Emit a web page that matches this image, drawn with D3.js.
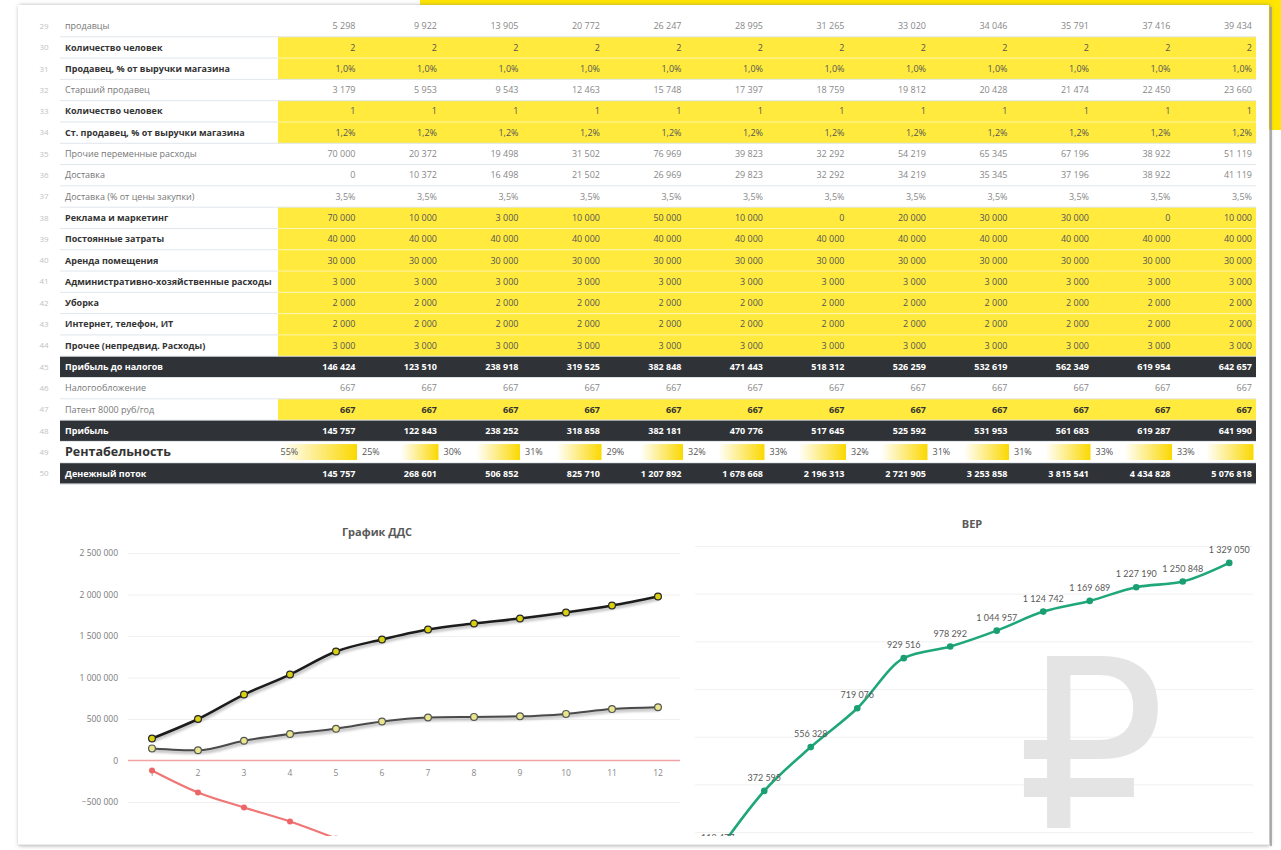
<!DOCTYPE html>
<html><head><meta charset="utf-8">
<script src="https://cdn.jsdelivr.net/npm/d3@7"></script>
<style>body{margin:0;background:#fff;} svg{display:block;}</style>
</head><body>
<svg id="c" width="1281" height="850"></svg>
<script>
// ---------- DATA ----------
const months = [1,2,3,4,5,6,7,8,9,10,11,12];
const rowNumbers = [29,30,31,32,33,34,35,36,37,38,39,40,41,42,43,44,45,46,47,48,49,50];

const sellers        = [5298, 9922, 13905, 20772, 26247, 28995, 31265, 33020, 34046, 35791, 37416, 39434];
const sellerCount    = [2,2,2,2,2,2,2,2,2,2,2,2];
const sellerPct      = [0.01,0.01,0.01,0.01,0.01,0.01,0.01,0.01,0.01,0.01,0.01,0.01];
const seniorSeller   = [3179, 5953, 9543, 12463, 15748, 17397, 18759, 19812, 20428, 21474, 22450, 23660];
const seniorCount    = [1,1,1,1,1,1,1,1,1,1,1,1];
const seniorPct      = [0.012,0.012,0.012,0.012,0.012,0.012,0.012,0.012,0.012,0.012,0.012,0.012];
const otherVariable  = [70000, 20372, 19498, 31502, 76969, 39823, 32292, 54219, 65345, 67196, 38922, 51119];
const delivery       = [0, 10372, 16498, 21502, 26969, 29823, 32292, 34219, 35345, 37196, 38922, 41119];
const deliveryPct    = [0.035,0.035,0.035,0.035,0.035,0.035,0.035,0.035,0.035,0.035,0.035,0.035];
const marketing      = [70000, 10000, 3000, 10000, 50000, 10000, 0, 20000, 30000, 30000, 0, 10000];
const fixedCosts     = [40000,40000,40000,40000,40000,40000,40000,40000,40000,40000,40000,40000];
const rentCosts      = [30000,30000,30000,30000,30000,30000,30000,30000,30000,30000,30000,30000];
const adminCosts     = [3000,3000,3000,3000,3000,3000,3000,3000,3000,3000,3000,3000];
const cleaning       = [2000,2000,2000,2000,2000,2000,2000,2000,2000,2000,2000,2000];
const internetIT     = [2000,2000,2000,2000,2000,2000,2000,2000,2000,2000,2000,2000];
const otherFixed     = [3000,3000,3000,3000,3000,3000,3000,3000,3000,3000,3000,3000];
const profitBeforeTax= [146424, 123510, 238918, 319525, 382848, 471443, 518312, 526259, 532619, 562349, 619954, 642657];
const taxation       = [667,667,667,667,667,667,667,667,667,667,667,667];
const patent         = [667,667,667,667,667,667,667,667,667,667,667,667];
const profit         = [145757, 122843, 238252, 318858, 382181, 470776, 517645, 525592, 531953, 561683, 619287, 641990];
const profitability  = [0.55, 0.25, 0.30, 0.31, 0.29, 0.32, 0.33, 0.32, 0.31, 0.31, 0.33, 0.33];
const cashFlow       = [145757, 268601, 506852, 825710, 1207892, 1678668, 2196313, 2721905, 3253858, 3815541, 4434828, 5076818];

// chart «График ДДС»
const ddsTicks    = [-500000, 0, 500000, 1000000, 1500000, 2000000, 2500000];
const ddsUpper    = [265000, 500000, 795000, 1036000, 1313000, 1458000, 1578000, 1650000, 1711000, 1783000, 1867000, 1976000];
const ddsProfit   = profit;
const ddsNegative = [-120000, -385000, -566000, -735000, -940000];

// chart «BEP»
const bepGrid   = [200000, 400000, 600000, 800000, 1000000, 1200000, 1400000];
const bepValues = [118477, 372595, 556328, 719076, 929516, 978292, 1044957, 1124742, 1169689, 1227190, 1250848, 1329050];

// ---------- FORMATS ----------
const fmtInt = v => d3.format(",")(v).replace(/,/g, " ");
const fmtP1  = v => d3.format(".1f")(v*100).replace(".", ",") + "%";
const fmtP0  = v => d3.format(".0f")(v*100) + "%";

const rows = [
  {n:29, label:"продавцы", vals:sellers, f:fmtInt, s:"plain"},
  {n:30, label:"Количество человек", vals:sellerCount, f:fmtInt, s:"input"},
  {n:31, label:"Продавец, % от выручки магазина", vals:sellerPct, f:fmtP1, s:"input"},
  {n:32, label:"Старший продавец", vals:seniorSeller, f:fmtInt, s:"plain"},
  {n:33, label:"Количество человек", vals:seniorCount, f:fmtInt, s:"input"},
  {n:34, label:"Ст. продавец, % от выручки магазина", vals:seniorPct, f:fmtP1, s:"input"},
  {n:35, label:"Прочие переменные расходы", vals:otherVariable, f:fmtInt, s:"plain"},
  {n:36, label:"Доставка", vals:delivery, f:fmtInt, s:"plain"},
  {n:37, label:"Доставка (% от цены закупки)", vals:deliveryPct, f:fmtP1, s:"plain"},
  {n:38, label:"Реклама и маркетинг", vals:marketing, f:fmtInt, s:"input"},
  {n:39, label:"Постоянные затраты", vals:fixedCosts, f:fmtInt, s:"input"},
  {n:40, label:"Аренда помещения", vals:rentCosts, f:fmtInt, s:"input"},
  {n:41, label:"Административно-хозяйственные расходы", vals:adminCosts, f:fmtInt, s:"input"},
  {n:42, label:"Уборка", vals:cleaning, f:fmtInt, s:"input"},
  {n:43, label:"Интернет, телефон, ИТ", vals:internetIT, f:fmtInt, s:"input"},
  {n:44, label:"Прочее (непредвид. Расходы)", vals:otherFixed, f:fmtInt, s:"input"},
  {n:45, label:"Прибыль до налогов", vals:profitBeforeTax, f:fmtInt, s:"dark"},
  {n:46, label:"Налогообложение", vals:taxation, f:fmtInt, s:"plain"},
  {n:47, label:"Патент 8000 руб/год", vals:patent, f:fmtInt, s:"patent"},
  {n:48, label:"Прибыль", vals:profit, f:fmtInt, s:"dark"},
  {n:49, label:"Рентабельность", vals:profitability, f:fmtP0, s:"rent"},
  {n:50, label:"Денежный поток", vals:cashFlow, f:fmtInt, s:"dark"}
];

// ---------- SETUP ----------
const svg = d3.select("#c");
const FONT = "'Open Sans', 'Noto Sans', sans-serif";
const YEL = "#ffea3d", DARK = "#2f3338";
const defs = svg.append("defs");
const sh = defs.append("filter").attr("id","sh").attr("x","-5%").attr("y","-5%").attr("width","110%").attr("height","110%");
sh.append("feDropShadow").attr("dx",1).attr("dy",0.5).attr("stdDeviation",2).attr("flood-color","#777").attr("flood-opacity",0.7);
const gr = defs.append("linearGradient").attr("id","bar");
gr.append("stop").attr("offset","0%").attr("stop-color","#ffffff");
gr.append("stop").attr("offset","100%").attr("stop-color","#fbd800");
const lsh = defs.append("filter").attr("id","lsh").attr("x","-10%").attr("y","-10%").attr("width","120%").attr("height","120%");
lsh.append("feGaussianBlur").attr("stdDeviation",1);
defs.append("clipPath").attr("id","chartClip").append("rect").attr("x",0).attr("y",495).attr("width",1281).attr("height",341);

// background / paper
svg.append("rect").attr("width",1281).attr("height",850).attr("fill","#fff");
svg.append("rect").attr("x",420).attr("y",0).attr("width",861).attr("height",7).attr("fill","#ffe500");
svg.append("rect").attr("x",1266).attr("y",0).attr("width",15).attr("height",130).attr("fill","#ffe500");
svg.append("rect").attr("x",18).attr("y",5).attr("width",1251).attr("height",840).attr("fill","#fff").attr("filter","url(#sh)");
svg.append("line").attr("x1",1271).attr("x2",1271).attr("y1",7).attr("y2",846).attr("stroke","#9a9a9a").attr("stroke-width",1.5);

// ---------- TABLE ----------
const yRow = d3.scaleBand().domain(rowNumbers).range([15.5, 484]);
const xCol = d3.scaleBand().domain(months).range([278, 1256]);
const rh = yRow.bandwidth(), cw = xCol.bandwidth();
const LX0 = 60, LX1 = 278, RX = 1256;
const isYel = s => s === "input" || s === "patent";

const tb = svg.append("g");
rows.filter(r => isYel(r.s)).forEach(r => {
  tb.append("rect").attr("x",LX1).attr("y",yRow(r.n)).attr("width",RX-LX1).attr("height",rh).attr("fill",YEL);
});
rows.forEach((r,i) => {
  if (i === rows.length-1) return;
  const nx = rows[i+1];
  const y = yRow(r.n) + rh;
  tb.append("line").attr("x1",LX0).attr("x2",LX1).attr("y1",y).attr("y2",y).attr("stroke","#e0e6eb").attr("stroke-width",1);
  tb.append("line").attr("x1",LX1).attr("x2",RX).attr("y1",y).attr("y2",y)
    .attr("stroke", (isYel(r.s) && isYel(nx.s)) ? "rgba(255,255,255,0.55)" : "#e0e6eb").attr("stroke-width",1);
});
tb.append("line").attr("x1",LX0).attr("x2",RX).attr("y1",yRow(50)+rh+0.5).attr("y2",yRow(50)+rh+0.5).attr("stroke","#e0e6eb");
rows.filter(r => r.s === "dark").forEach(r => {
  tb.append("rect").attr("x",LX0).attr("y",yRow(r.n)+0.5).attr("width",RX-LX0).attr("height",rh-1).attr("fill",DARK);
});
tb.selectAll("text.rn").data(rows).join("text").attr("class","rn")
  .attr("x",44).attr("y",r => yRow(r.n)+rh/2).attr("dy","0.35em")
  .attr("text-anchor","middle").attr("font-family",FONT).attr("font-size",8).attr("fill","#c2c2c2")
  .text(r => r.n);
const labStyle = {
  plain:{c:"#777", w:400, fs:9}, input:{c:"#333", w:700, fs:9}, patent:{c:"#777", w:400, fs:9},
  dark:{c:"#fff", w:700, fs:9}, rent:{c:"#333", w:700, fs:12.5}
};
const valStyle = {
  plain:{c:"#888", w:400}, input:{c:"#555", w:400}, patent:{c:"#333", w:700},
  dark:{c:"#fff", w:700}, rent:{c:"#555", w:400}
};
tb.selectAll("text.lab").data(rows).join("text").attr("class","lab")
  .attr("x",65).attr("y",r => yRow(r.n)+rh/2).attr("dy","0.35em")
  .attr("font-family",FONT).attr("font-size",r => labStyle[r.s].fs)
  .attr("font-weight",r => labStyle[r.s].w).attr("fill",r => labStyle[r.s].c)
  .text(r => r.label);
rows.forEach(r => {
  const g = tb.append("g");
  const cy = yRow(r.n)+rh/2;
  if (r.s === "rent") {
    const wb = d3.scaleLinear().domain([0, d3.max(r.vals)]).range([6, cw-6]);
    g.selectAll("rect").data(r.vals).join("rect")
      .attr("x",(v,i) => xCol(months[i]) + cw - 2.5 - wb(v)).attr("y",cy-8)
      .attr("width",v => wb(v)).attr("height",16).attr("fill","url(#bar)");
    g.selectAll("text").data(r.vals).join("text")
      .attr("x",(v,i) => xCol(months[i]) + 2.5).attr("y",cy).attr("dy","0.35em")
      .attr("font-family",FONT).attr("font-size",9).attr("fill","#555")
      .text(v => r.f(v));
  } else {
    g.selectAll("text").data(r.vals).join("text")
      .attr("x",(v,i) => xCol(months[i]) + cw - 4).attr("y",cy).attr("dy","0.35em")
      .attr("text-anchor","end").attr("font-family",FONT).attr("font-size",9)
      .attr("font-weight",valStyle[r.s].w).attr("fill",valStyle[r.s].c)
      .text(v => r.f(v));
  }
});

// ---------- CHART 1: График ДДС ----------
const c1 = svg.append("g");
c1.append("text").attr("x",377).attr("y",532).attr("dy","0.35em").attr("text-anchor","middle")
  .attr("font-family",FONT).attr("font-size",11).attr("font-weight",700).attr("fill","#595959").text("График ДДС");
const xL = d3.scaleBand().domain(months).range([129, 681]);
const yL = d3.scaleLinear().domain([-500000, 2500000]).range([802, 553]);
const axY = c1.append("g").attr("transform","translate(128,0)")
  .call(d3.axisLeft(yL).tickValues(ddsTicks).tickSize(-552).tickPadding(10).tickFormat(fmtInt));
axY.select(".domain").remove();
axY.selectAll("line").attr("stroke", d => d === 0 ? "none" : "#f0f0f0");
axY.selectAll("text").attr("font-family",FONT).attr("font-size",8.5).attr("fill","#7a7a7a");
c1.append("line").attr("x1",128).attr("x2",680).attr("y1",yL(0)).attr("y2",yL(0)).attr("stroke","#f4a3a3").attr("stroke-width",1.5);
const axX = c1.append("g").attr("transform",`translate(0,${yL(0)})`)
  .call(d3.axisBottom(xL).tickSize(0).tickPadding(9));
axX.select(".domain").remove();
axX.selectAll("text").attr("font-family",FONT).attr("font-size",8.5).attr("fill","#888");

const plot1 = c1.append("g").attr("clip-path","url(#chartClip)");
const cx = (d,i) => xL(months[i]) + xL.bandwidth()/2;
const line1 = d3.line().x(cx).y(d => yL(d)).curve(d3.curveMonotoneX);
[ddsUpper, ddsProfit].forEach(s => {
  plot1.append("path").attr("d",line1(s)).attr("fill","none").attr("stroke","#888").attr("stroke-opacity",0.45)
    .attr("stroke-width",4).attr("transform","translate(1,2)").attr("filter","url(#lsh)");
});
plot1.append("path").attr("d",line1(ddsNegative)).attr("fill","none").attr("stroke","#f07575").attr("stroke-width",2.2);
plot1.selectAll("circle.neg").data(ddsNegative).join("circle").attr("class","neg")
  .attr("cx",cx).attr("cy",d => yL(d)).attr("r",3).attr("fill","#ec6666");
plot1.append("path").attr("d",line1(ddsProfit)).attr("fill","none").attr("stroke","#4a4a4a").attr("stroke-width",2);
plot1.append("path").attr("d",line1(ddsUpper)).attr("fill","none").attr("stroke","#1c1c1c").attr("stroke-width",2.5);
plot1.selectAll("circle.pr").data(ddsProfit).join("circle").attr("class","pr")
  .attr("cx",cx).attr("cy",d => yL(d)).attr("r",3.4).attr("fill","#e9e68c").attr("stroke","#555").attr("stroke-width",1.2);
plot1.selectAll("circle.up").data(ddsUpper).join("circle").attr("class","up")
  .attr("cx",cx).attr("cy",d => yL(d)).attr("r",3.4).attr("fill","#d8d012").attr("stroke","#262626").attr("stroke-width",1.2);

// ---------- CHART 2: BEP ----------
const c2 = svg.append("g");
c2.append("text").attr("x",972).attr("y",524).attr("dy","0.35em").attr("text-anchor","middle")
  .attr("font-family",FONT).attr("font-size",11).attr("font-weight",700).attr("fill","#595959").text("BEP");
const xR = d3.scaleBand().domain(months).range([694.5, 1252.5]);
const yR = d3.scaleLinear().domain([0, 1400000]).range([879.7, 546]);
const axR = c2.append("g").attr("transform","translate(695,0)")
  .call(d3.axisLeft(yR).tickValues(bepGrid).tickSize(-558).tickFormat(""));
axR.select(".domain").remove();
axR.selectAll("line").attr("stroke","#f1f1f1");
c2.append("text").attr("x",1091).attr("y",828).attr("text-anchor","middle")
  .attr("font-family","'DejaVu Sans', 'Noto Sans', sans-serif").attr("font-size",235).attr("fill","#e4e4e4").text("₽");
const plot2 = c2.append("g").attr("clip-path","url(#chartClip)");
const cx2 = (d,i) => xR(months[i]) + xR.bandwidth()/2;
const line2 = d3.line().x(cx2).y(d => yR(d)).curve(d3.curveMonotoneX);
plot2.append("path").attr("d",line2(bepValues)).attr("fill","none").attr("stroke","#1fa77a").attr("stroke-width",2.6);
plot2.selectAll("circle").data(bepValues).join("circle")
  .attr("cx",cx2).attr("cy",d => yR(d)).attr("r",3.3).attr("fill","#1a9f73");
plot2.selectAll("text").data(bepValues).join("text")
  .attr("x",cx2).attr("y",d => yR(d) - 10).attr("text-anchor","middle")
  .attr("font-family","'Lato', 'Open Sans', sans-serif").attr("font-size",9).attr("fill","#5a5a5a")
  .text(d => fmtInt(d));

svg.append("line").attr("x1",18).attr("x2",1269).attr("y1",845).attr("y2",845).attr("stroke","#d8d8d8");
</script>
</body></html>
